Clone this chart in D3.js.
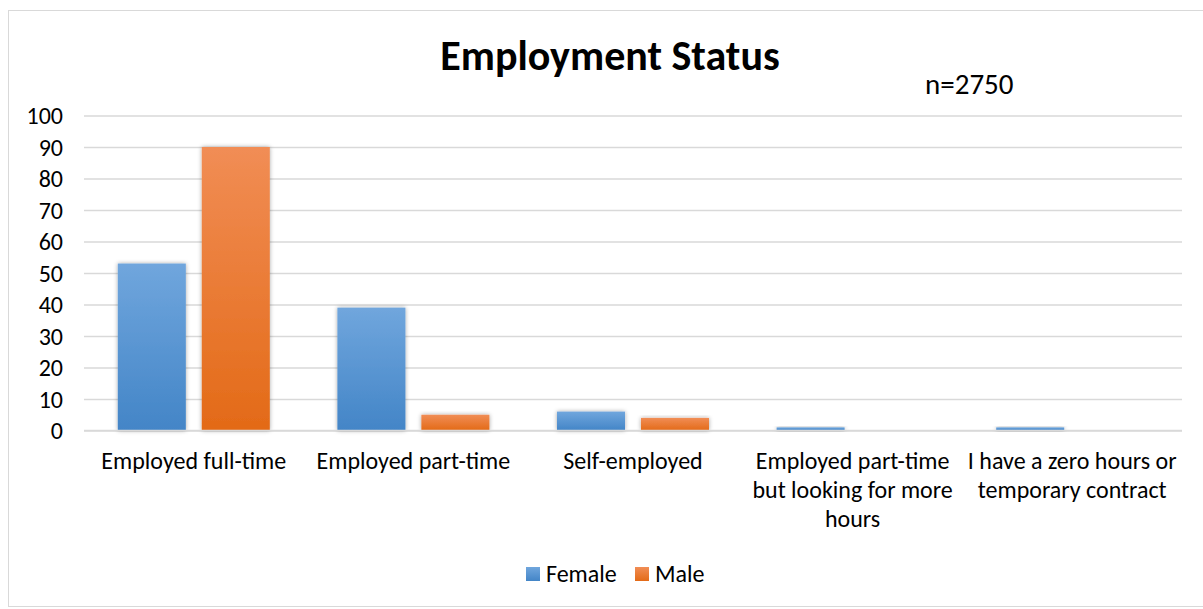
<!DOCTYPE html>
<html><head><meta charset="utf-8">
<script src="https://cdn.jsdelivr.net/npm/d3@7"></script>
<style>body{margin:0;background:#fff;} svg{display:block;}</style>
</head><body>
<svg id="c" width="1203" height="609"></svg>
<script>
const categories = [
  ["Employed full-time"],
  ["Employed part-time"],
  ["Self-employed"],
  ["Employed part-time", "but looking for more", "hours"],
  ["I have a zero hours or", "temporary contract"]
];
const seriesNames = ["Female", "Male"];
const femaleValues = [53, 39, 6, 1, 1];
const maleValues = [90, 5, 4, 0, 0];
const yTicks = [0,10,20,30,40,50,60,70,80,90,100];

(function(){
const font = "Carlito, Calibri, 'Open Sans', 'Liberation Sans', sans-serif";
const svg = d3.select("#c");
const defs = svg.append("defs");
const grads = [["gF","#70a6dd","#4385c7"],["gM","#f18d55","#e36a17"]];
grads.forEach(([id,a,b])=>{
  const g = defs.append("linearGradient").attr("id",id).attr("x1",0).attr("y1",0).attr("x2",0).attr("y2",1);
  g.append("stop").attr("offset","0%").attr("stop-color",a);
  g.append("stop").attr("offset","100%").attr("stop-color",b);
});
const f = defs.append("filter").attr("id","sh").attr("x","-20%").attr("y","-20%").attr("width","140%").attr("height","140%");
f.append("feDropShadow").attr("dx",0).attr("dy",0).attr("stdDeviation",2).attr("flood-color","#000").attr("flood-opacity",0.35);

svg.append("rect").attr("x",8.5).attr("y",10.5).attr("width",1200).attr("height",596)
  .attr("fill","#fff").attr("stroke","#d9d9d9");

const pLeft = 84, pRight = 1182, pTop = 115.5, pBottom = 430.5;
const y = d3.scaleLinear().domain([0,100]).range([pBottom, pTop]);
const x0 = d3.scaleBand().domain(d3.range(categories.length)).range([pLeft,pRight]);
const x1 = d3.scaleBand().domain([0,1]).range([0,152]).paddingInner(0.19);

const yAxis = d3.axisLeft(y).tickValues(yTicks).tickSize(-(pRight-pLeft)).tickFormat(d3.format("d"));
const ga = svg.append("g").attr("transform",`translate(${pLeft},0)`).call(yAxis);
ga.select(".domain").remove();
ga.selectAll(".tick line").attr("stroke","#d9d9d9").attr("stroke-width",1.5);
ga.selectAll(".tick text").attr("x",-21).attr("dy","0.35em").attr("font-family",font).attr("font-size",24).attr("fill","#000");

const data = [femaleValues, maleValues];
categories.forEach((c,i)=>{
  const gx = x0(i) + x0.bandwidth()/2 - 76;
  data.forEach((vals,s)=>{
    const v = vals[i];
    if (v <= 0) return;
    svg.append("rect")
      .attr("x", gx + x1(s)).attr("y", y(v))
      .attr("width", x1.bandwidth()).attr("height", y(0)-y(v))
      .attr("fill", `url(#${grads[s][0]})`)
      .attr("filter","url(#sh)");
  });
});

svg.append("line").attr("x1",pLeft).attr("x2",pRight).attr("y1",pBottom).attr("y2",pBottom)
  .attr("stroke","#d9d9d9").attr("stroke-width",1.5);

categories.forEach((lines,i)=>{
  const t = svg.append("text").attr("text-anchor","middle").attr("font-family",font)
    .attr("font-size",24).attr("fill","#000");
  lines.forEach((ln,j)=>{
    t.append("tspan").attr("x", x0(i)+x0.bandwidth()/2).attr("y", 469 + j*29).text(ln);
  });
});

svg.append("text").attr("x",610).attr("y",70).attr("text-anchor","middle")
  .attr("font-family",font).attr("font-weight","bold").attr("font-size",42).text("Employment Status");
svg.append("text").attr("x",925).attr("y",94).attr("font-family",font).attr("font-size",29).text("n=2750");

const legendX = [526, 635];
seriesNames.forEach((n,s)=>{
  svg.append("rect").attr("x",legendX[s]).attr("y",567).attr("width",14).attr("height",14)
    .attr("fill",`url(#${grads[s][0]})`);
  svg.append("text").attr("x",legendX[s]+20).attr("y",582).attr("font-family",font)
    .attr("font-size",24).text(n);
});
})();
</script>
</body></html>
